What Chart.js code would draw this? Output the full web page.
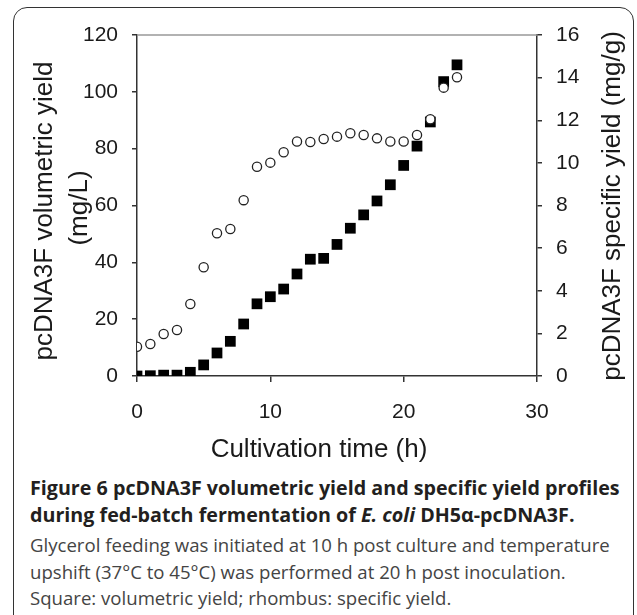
<!DOCTYPE html>
<html>
<head>
<meta charset="utf-8">
<script src="https://cdn.jsdelivr.net/npm/chart.js@4.4.0/dist/chart.umd.min.js"></script>
<style>
    html, body { margin: 0; padding: 0; background: #fff; width: 637px; height: 615px; overflow: hidden; }
    #frame {
        position: absolute; left: 13px; top: 7px; width: 621px; height: 640px;
        border: 1.3px solid #333; border-radius: 14px; box-sizing: border-box;
    }
    #wrap { position: absolute; left: 0; top: 0; width: 637px; height: 470px; }
    .cap { position: absolute; left: 30px; white-space: nowrap; font-family: "Open Sans", sans-serif; line-height: 1.36; }
    .cap.b { font-weight: bold; font-size: 19.7px; color: #231f20; }
    .cap.r { font-size: 18.6px; color: #444; }
</style>
</head>
<body>
<div id="frame"></div>
<div id="wrap"><canvas id="chart" width="637" height="470"></canvas></div>

<div class="cap b" style="top:475px">Figure 6 pcDNA3F volumetric yield and specific yield profiles</div>
<div class="cap b" style="top:502px">during fed-batch fermentation of <i>E. coli</i> DH5α-pcDNA3F.</div>
<div class="cap r" style="top:532px">Glycerol feeding was initiated at 10 h post culture and temperature</div>
<div class="cap r" style="top:559px">upshift (37°C to 45°C) was performed at 20 h post inoculation.</div>
<div class="cap r" style="top:585px">Square: volumetric yield; rhombus: specific yield.</div>

<script>
// --- datos ---
const hours = [0, 1, 2, 3, 4, 5, 6, 7, 8, 9, 10, 11, 12, 13, 14, 15, 16, 17, 18, 19, 20, 21, 22, 23, 24];
// mg/L (eje izquierdo, cuadrados)
const volumetricYield = [0, 0.1, 0.3, 0.3, 1.3, 3.9, 8.1, 12.2, 18.3, 25.4, 27.9, 30.6, 35.9, 41.1, 41.4,
    46.3, 52.0, 56.7, 61.6, 67.3, 74.1, 80.9, 89.4, 103.6, 109.5];
// mg/g (eje derecho, circulos)
const specificYield = [1.37, 1.50, 1.97, 2.16, 3.38, 5.10, 6.70, 6.90, 8.25, 9.82, 10.01, 10.50, 11.0, 10.98,
    11.12, 11.23, 11.39, 11.31, 11.15, 11.0, 11.0, 11.31, 12.05, 13.53, 14.02];

const xTicks = [0, 10, 20, 30];
const leftTicks = [0, 20, 40, 60, 80, 100, 120];
const rightTicks = [0, 2, 4, 6, 8, 10, 12, 14, 16];

const xTitle = 'Cultivation time (h)';
const leftTitle = ['pcDNA3F volumetric yield', '(mg/L)'];
const rightTitle = 'pcDNA3F specific yield (mg/g)';

const AXIS = '#333';
const TXT = '#1a1a1a';
const tickFont = { family: '"Liberation Sans", Arial, sans-serif', size: 21 };

// titulos y linea superior dibujados a mano (rotacion igual en ambos lados)
const extras = {
    id: 'extras',
    afterDraw(chart) {
        const { ctx, chartArea: a } = chart;
        ctx.save();
        ctx.strokeStyle = '#999';
        ctx.lineWidth = 1.5;
        ctx.beginPath();
        ctx.moveTo(a.left, a.top);
        ctx.lineTo(a.right, a.top);
        ctx.stroke();

        ctx.fillStyle = TXT;
        ctx.font = '26px "Liberation Sans", Arial, sans-serif';
        ctx.textAlign = 'center';
        ctx.textBaseline = 'middle';
        ctx.fillText(xTitle, 319, 450);

        ctx.save();
        ctx.translate(45, 211);
        ctx.rotate(-Math.PI / 2);
        ctx.fillText(leftTitle[0], 0, 0);
        ctx.restore();
        ctx.save();
        ctx.translate(80, 208);
        ctx.rotate(-Math.PI / 2);
        ctx.fillText(leftTitle[1], 0, 0);
        ctx.restore();
        ctx.save();
        ctx.translate(613, 206);
        ctx.rotate(-Math.PI / 2);
        ctx.fillText(rightTitle, 0, 0);
        ctx.restore();
        ctx.restore();
    }
};

const axisGrid = { display: true, drawOnChartArea: false, drawTicks: true, tickLength: 6, color: AXIS, lineWidth: 1.5 };
const axisBorder = { display: true, color: AXIS, width: 1.5 };

new Chart(document.getElementById('chart'), {
    type: 'scatter',
    data: {
        datasets: [
            {
                label: 'Specific yield',
                data: hours.map((h, i) => ({ x: h, y: specificYield[i] })),
                yAxisID: 'y2',
                pointStyle: 'circle',
                pointRadius: 4.6,
                backgroundColor: '#fff',
                borderColor: '#222',
                borderWidth: 1.3,
                order: 0
            },
            {
                label: 'Volumetric yield',
                data: hours.map((h, i) => ({ x: h, y: volumetricYield[i] })),
                yAxisID: 'y',
                pointStyle: 'rect',
                pointRadius: 7.6,
                backgroundColor: '#000',
                borderColor: '#000',
                borderWidth: 0,
                order: 1
            }
        ]
    },
    options: {
        responsive: false,
        animation: false,
        layout: { padding: { top: 35, left: 0, right: 0, bottom: 0 } },
        plugins: { legend: { display: false }, tooltip: { enabled: false } },
        scales: {
            x: {
                type: 'linear', min: 0, max: 30,
                afterBuildTicks: s => { s.ticks = xTicks.map(v => ({ value: v })); },
                ticks: { font: tickFont, color: TXT, padding: 18, maxRotation: 0 },
                grid: axisGrid, border: axisBorder,
                afterFit: s => { s.height = 94; }
            },
            y: {
                position: 'left', min: 0, max: 120,
                afterBuildTicks: s => { s.ticks = leftTicks.map(v => ({ value: v })); },
                ticks: { font: tickFont, color: TXT, padding: 14 },
                grid: { ...axisGrid, tickLength: 5 }, border: axisBorder,
                afterFit: s => { s.width = 137; }
            },
            y2: {
                position: 'right', min: 0, max: 16,
                afterBuildTicks: s => { s.ticks = rightTicks.map(v => ({ value: v })); },
                ticks: { font: tickFont, color: TXT, padding: 14 },
                grid: { ...axisGrid, tickLength: 5 }, border: axisBorder,
                afterFit: s => { s.width = 100; }
            }
        }
    },
    plugins: [extras]
});
</script>
</body>
</html>
